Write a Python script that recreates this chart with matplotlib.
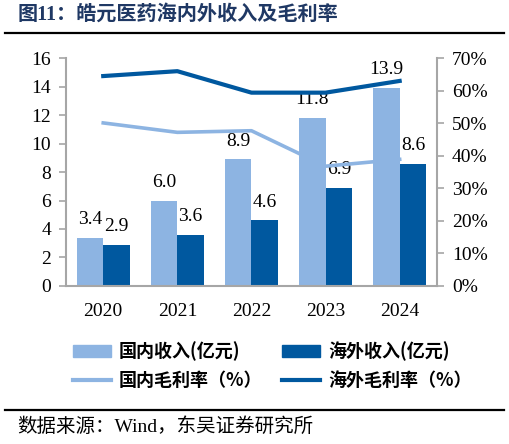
import matplotlib
matplotlib.use('Agg')
import matplotlib.pyplot as plt
import numpy as np
from matplotlib.patches import Patch
from matplotlib.lines import Line2D

# data
years = ['2020', '2021', '2022', '2023', '2024']
domestic_rev = [3.4, 6.0, 8.9, 11.8, 13.9]
overseas_rev = [2.9, 3.6, 4.6, 6.9, 8.6]
domestic_gm = [50.1, 47.2, 47.7, 36.8, 38.9]
overseas_gm = [64.5, 66.0, 59.4, 59.4, 63.0]

light = '#8DB4E2'
dark = '#00589F'
grey = '#A6A6A6'
serif = ['Liberation Serif', 'Noto Sans CJK SC']
cjk = ['Noto Sans CJK SC', 'DejaVu Sans']

fig = plt.figure(figsize=(5.09, 4.44), dpi=100)
ax = fig.add_axes([0.130, 0.356, 0.728, 0.513])

x = np.arange(len(years))
w = 0.36
b1 = ax.bar(x - w/2, domestic_rev, w, color=light, zorder=2)
b2 = ax.bar(x + w/2, overseas_rev, w, color=dark, zorder=2)
for bars, vals in [(b1, domestic_rev), (b2, overseas_rev)]:
    for r, v in zip(bars, vals):
        ax.annotate(f'{v:.1f}', (r.get_x() + r.get_width()/2, v), xytext=(0, 7),
                    textcoords='offset points', ha='center', va='bottom',
                    fontsize=14, family=serif, zorder=5)

ax.set_xlim(-0.5, 4.5)
ax.set_ylim(0, 16)
ax.set_yticks(range(0, 17, 2))
ax.set_xticks(x)
ax.set_xticklabels(years)

ax2 = ax.twinx()
ax2.plot(x, domestic_gm, color=light, lw=2.6, zorder=3)
ax2.plot(x, overseas_gm, color=dark, lw=3.0, zorder=3)
ax2.set_ylim(0, 70)
ax2.set_yticks(range(0, 71, 10))
ax2.set_yticklabels([f'{t}%' for t in range(0, 71, 10)])

for a in (ax, ax2):
    for s in a.spines.values():
        s.set_color(grey)
        s.set_linewidth(1.5)
    a.spines['top'].set_visible(False)
    for lab in a.get_yticklabels() + a.get_xticklabels():
        lab.set_family(serif)
        lab.set_fontsize(14)
ax.spines['right'].set_visible(False)
ax2.spines['left'].set_visible(False)
ax2.spines['bottom'].set_visible(False)
ax.tick_params(axis='y', direction='out', length=5, width=1.2, color=grey, pad=6)
ax2.tick_params(axis='y', direction='out', length=5, width=1.2, color=grey, pad=6)
ax.tick_params(axis='x', length=0, pad=12)

# legend fills column by column, so order handles to read row by row
handles = [Patch(color=light), Line2D([], [], color=light, lw=3),
           Patch(color=dark), Line2D([], [], color=dark, lw=3)]
labels = ['国内收入(亿元)', '国内毛利率（%）', '海外收入(亿元)', '海外毛利率（%）']
fig.legend(handles, labels, ncol=2, loc='center', bbox_to_anchor=(0.535, 0.176),
           frameon=False, prop={'family': cjk, 'size': 13, 'weight': 'bold'},
           handlelength=2.1, handleheight=0.6, handletextpad=0.45,
           columnspacing=1.1, labelspacing=0.55)

fig.text(0.035, 0.968, '图11：皓元医药海内外收入及毛利率', family=serif, fontsize=14.5,
         fontweight='bold', color='#1F3864', va='center')
fig.add_artist(Line2D([0.01, 0.99], [0.925, 0.925], color='black', lw=1.6))
fig.add_artist(Line2D([0.01, 0.99], [0.077, 0.077], color='black', lw=1.6))
fig.text(0.033, 0.039, '数据来源：Wind，东吴证券研究所', family=serif, fontsize=14, va='center')

fig.savefig('out.png', dpi=100)
